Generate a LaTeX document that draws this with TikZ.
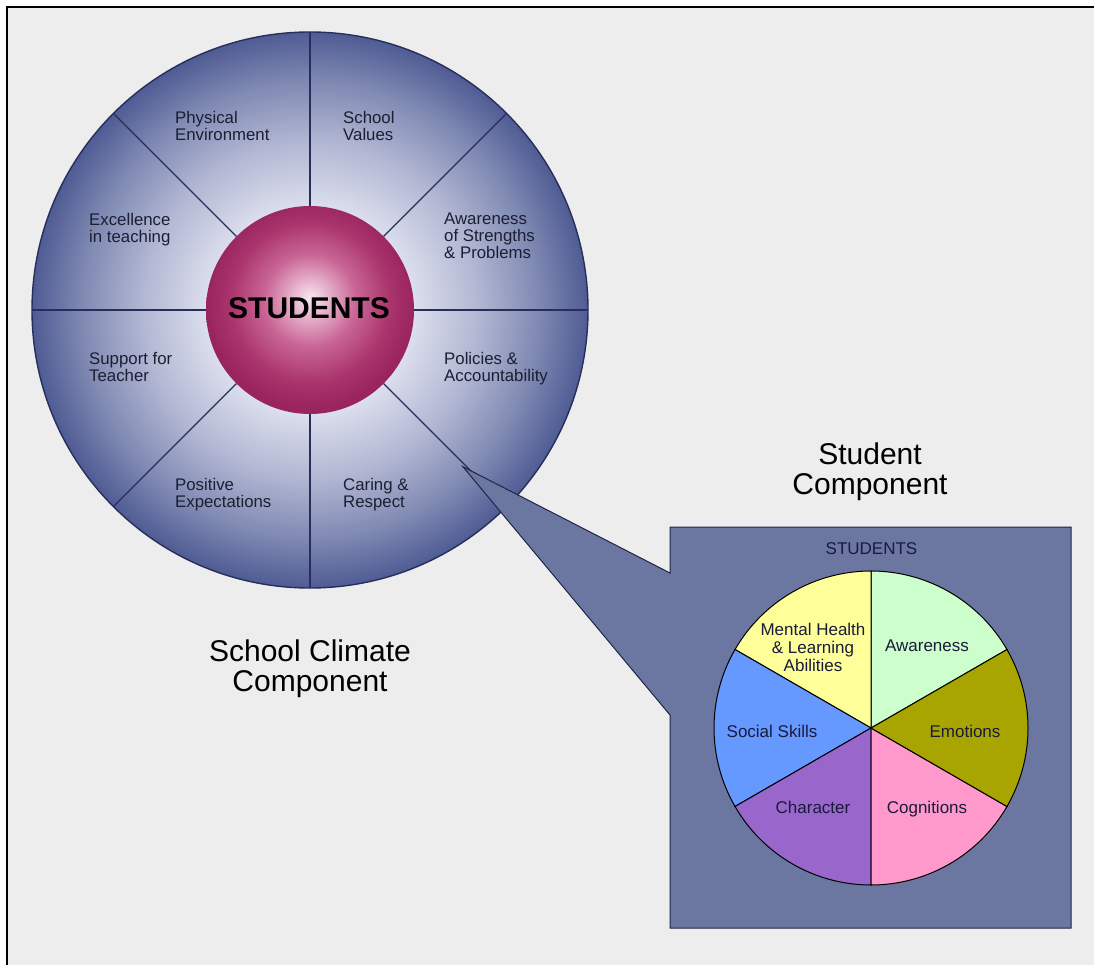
\documentclass[tikz,border=0pt]{standalone}
\usepackage{fontspec}
\setmainfont{Liberation Sans}
\usepackage{tikz}
\usetikzlibrary{calc,positioning}

\definecolor{bgcol}{RGB}{237,237,237}
\definecolor{panelcol}{RGB}{107,119,160}
\definecolor{rimcol}{RGB}{40,46,90}
\definecolor{labelcol}{RGB}{28,30,50}
\definecolor{piecol}{RGB}{26,26,58}
\definecolor{mentalcol}{RGB}{255,255,153}
\definecolor{awarecol}{RGB}{204,255,204}
\definecolor{emotcol}{RGB}{169,165,0}
\definecolor{cognicol}{RGB}{255,153,204}
\definecolor{charcol}{RGB}{153,102,204}
\definecolor{socialcol}{RGB}{102,153,255}

\pgfdeclareradialshading{wheelshade}{\pgfpoint{0bp}{0bp}}{rgb(0bp)=(1,1,1); rgb(9bp)=(0.87,0.88,0.93); rgb(15bp)=(0.70,0.72,0.83); rgb(20.5bp)=(0.50,0.54,0.70); rgb(25bp)=(0.31,0.36,0.58); rgb(50bp)=(0.31,0.36,0.58)}
\pgfdeclareradialshading{ballshade}{\pgfpoint{0bp}{3bp}}{rgb(0bp)=(0.97,0.91,0.94); rgb(4bp)=(0.91,0.72,0.81); rgb(11bp)=(0.79,0.40,0.59); rgb(19bp)=(0.67,0.21,0.43); rgb(25bp)=(0.60,0.14,0.37); rgb(50bp)=(0.60,0.14,0.37)}

\tikzset{
  spoke/.style={draw=rimcol, line width=1.2pt},
  wheellabel/.style={anchor=north west, align=left, inner sep=0pt, text=labelcol,
    font=\fontsize{16.8}{17}\selectfont},
  pielabel/.style={anchor=base, inner sep=0pt, text=piecol, font=\fontsize{17}{18}\selectfont},
  slice/.style={draw=black, line width=1pt},
  title/.style={anchor=north, align=center, inner sep=0pt, font=\fontsize{30}{30}\selectfont}
}

\begin{document}
\begin{tikzpicture}[x=1pt,y=1pt]
  \useasboundingbox (0,0) rectangle (1094,-965);
  \fill[white] (0,0) rectangle (1094,-965);
  \fill[bgcol] (7,-7) rectangle (1094,-965);
  \draw[line width=2.6pt] (7,-965) -- (7,-7) -- (1094,-7);

  \coordinate (hub) at (310,-310);
  \coordinate (pie) at (871,-728);

  % school climate wheel
  \shade[shading=wheelshade] (hub) circle[radius=278pt];
  \draw[rimcol, line width=1.4pt] (hub) circle[radius=278pt];

  \draw[spoke] (hub) ++(0:104) -- ++(0:174);
  \draw[spoke] (hub) ++(45:104) -- ++(45:174);
  \draw[spoke] (hub) ++(90:104) -- ++(90:174);
  \draw[spoke] (hub) ++(135:104) -- ++(135:174);
  \draw[spoke] (hub) ++(180:104) -- ++(180:174);
  \draw[spoke] (hub) ++(225:104) -- ++(225:174);
  \draw[spoke] (hub) ++(270:104) -- ++(270:174);
  \draw[spoke] (hub) ++(315:104) -- ++(315:174);

  \shade[shading=ballshade] (hub) circle[radius=104pt];
  \node[anchor=base, inner sep=0pt, font=\fontsize{30}{30}\selectfont\bfseries] (students) at (309,-319) {STUDENTS};

  \node[wheellabel] (physenv) at (175,-111) {Physical\\Environment};
  \node[wheellabel] (values) at (343,-111) {School\\Values};
  \node[wheellabel] (excel) at (89,-213) {Excellence\\in teaching};
  \node[wheellabel] (aware) at (444,-213) {Awareness\\of Strengths\\\& Problems};
  \node[wheellabel] (support) at (89,-352) {Support for\\Teacher};
  \node[wheellabel] (policies) at (444,-352) {Policies \&\\Accountability};
  \node[wheellabel] (positive) at (175,-478) {Positive\\Expectations};
  \node[wheellabel] (caring) at (343,-478) {Caring \&\\Respect};

  \node[title] (climate) at (310,-640) {School Climate\\Component};

  % callout and student panel
  \path (hub) ++(-45.7:219) coordinate (tip);
  \filldraw[fill=panelcol, draw=rimcol!80!black, line width=1pt]
    (tip) -- (670,-573) -- (670,-527) -- (1071,-527) -- (1071,-928)
    -- (670,-928) -- (670,-715) -- cycle;

  \node[title] (stucomp) at (870,-443) {Student\\Component};
  \node[pielabel] (panelhead) at (871.5,-554) {STUDENTS};

  % student pie
  \filldraw[slice, fill=awarecol] (pie) -- ++(30:157) arc[start angle=30, end angle=90, radius=157pt] -- cycle;
  \filldraw[slice, fill=mentalcol] (pie) -- ++(90:157) arc[start angle=90, end angle=150, radius=157pt] -- cycle;
  \filldraw[slice, fill=socialcol] (pie) -- ++(150:157) arc[start angle=150, end angle=210, radius=157pt] -- cycle;
  \filldraw[slice, fill=charcol] (pie) -- ++(210:157) arc[start angle=210, end angle=270, radius=157pt] -- cycle;
  \filldraw[slice, fill=cognicol] (pie) -- ++(270:157) arc[start angle=270, end angle=330, radius=157pt] -- cycle;
  \filldraw[slice, fill=emotcol] (pie) -- ++(330:157) arc[start angle=330, end angle=390, radius=157pt] -- cycle;

  \node[pielabel] (awarepie) at (927,-651) {Awareness};
  \node[pielabel] (emotions) at (965,-737) {Emotions};
  \node[pielabel] (cognitions) at (927,-813) {Cognitions};
  \node[pielabel] (character) at (813,-813) {Character};
  \node[pielabel] (social) at (772,-737) {Social Skills};
  \node[pielabel, anchor=north, align=center, font=\fontsize{17}{18}\selectfont] (mental) at (813,-622.7) {Mental Health\\\& Learning\\Abilities};
\end{tikzpicture}
\end{document}
